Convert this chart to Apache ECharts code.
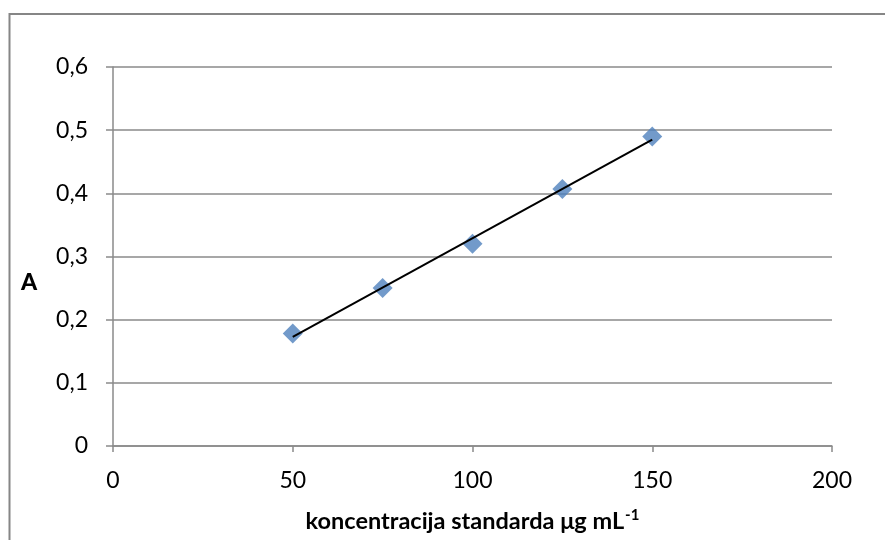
<!DOCTYPE html>
<html>
<head>
<meta charset="utf-8">
<script src="https://cdn.jsdelivr.net/npm/echarts@6/dist/echarts.min.js"></script>
<style>
html,body{margin:0;padding:0;background:#fff;}
#chart{width:885px;height:540px;}
</style>
</head>
<body>
<div id="chart"></div>
<script>
var concentrations = [50, 75, 100, 125, 150];
var absorbance = [0.178, 0.250, 0.320, 0.407, 0.490];
var xTitle = 'koncentracija standarda μg mL';
var xTitleSup = '-1';
var yTitle = 'A';

// linear least-squares trendline from the data
var n = concentrations.length, sx = 0, sy = 0, sxx = 0, sxy = 0;
for (var i = 0; i < n; i++) {
  sx += concentrations[i]; sy += absorbance[i];
  sxx += concentrations[i] * concentrations[i];
  sxy += concentrations[i] * absorbance[i];
}
var slope = (n * sxy - sx * sy) / (n * sxx - sx * sx);
var intercept = (sy - slope * sx) / n;
var xMinD = Math.min.apply(null, concentrations), xMaxD = Math.max.apply(null, concentrations);
var trend = [[xMinD, intercept + slope * xMinD], [xMaxD, intercept + slope * xMaxD]];

var pts = concentrations.map(function (c, i) { return [c, absorbance[i]]; });
var FONT = 'Lato';
var gray = '#8a8a8a';

var chart = echarts.init(document.getElementById('chart'));
chart.setOption({
  animation: false,
  backgroundColor: '#fff',
  textStyle: { fontFamily: FONT },
  title: {
    text: yTitle, left: 21, top: 271, padding: 0,
    textStyle: { fontSize: 23, fontWeight: 900, color: '#000', fontFamily: FONT }
  },
  graphic: [{
    type: 'rect', z: -1,
    shape: { x: 9.5, y: 14, width: 900, height: 560 },
    style: { fill: 'none', stroke: '#868686', lineWidth: 2 }
  }],
  grid: { left: 113, right: 53, top: 67, bottom: 94 },
  xAxis: {
    type: 'value', min: 0, max: 200, interval: 50,
    axisLine: { show: true, lineStyle: { color: gray, width: 1.5 } },
    axisTick: { show: true, length: 6, lineStyle: { color: gray, width: 1.5 } },
    splitLine: { show: false },
    axisLabel: { color: '#000', fontSize: 23, fontFamily: FONT, margin: 23 },
    name: '{b|' + xTitle + '}{s|' + xTitleSup + '}',
    nameLocation: 'middle', nameGap: 62,
    nameTextStyle: {
      rich: {
        b: { fontSize: 23.5, fontWeight: 'bold', color: '#000', fontFamily: FONT },
        s: { fontSize: 15, fontWeight: 'bold', color: '#000', fontFamily: FONT, verticalAlign: 'top', padding: [0, 0, 12, 1] }
      }
    }
  },
  yAxis: {
    type: 'value', min: 0, max: 0.6, interval: 0.1,
    axisLine: { show: true, lineStyle: { color: gray, width: 1.5 } },
    axisTick: { show: true, length: 7, lineStyle: { color: gray, width: 1.5 } },
    splitLine: { show: true, lineStyle: { color: gray, width: 1.5 } },
    axisLabel: {
      color: '#000', fontSize: 23, fontFamily: FONT, margin: 25,
      formatter: function (v) { return (Math.round(v * 10) / 10).toString().replace('.', ','); }
    }
  },
  series: [{
    type: 'scatter', data: pts, symbol: 'diamond', symbolSize: 20,
    itemStyle: { color: '#4F81BD' }, z: 2
  }, {
    type: 'line', data: trend, symbol: 'none',
    lineStyle: { color: '#000', width: 2 }, z: 3, silent: true
  }]
});
</script>
</body>
</html>
